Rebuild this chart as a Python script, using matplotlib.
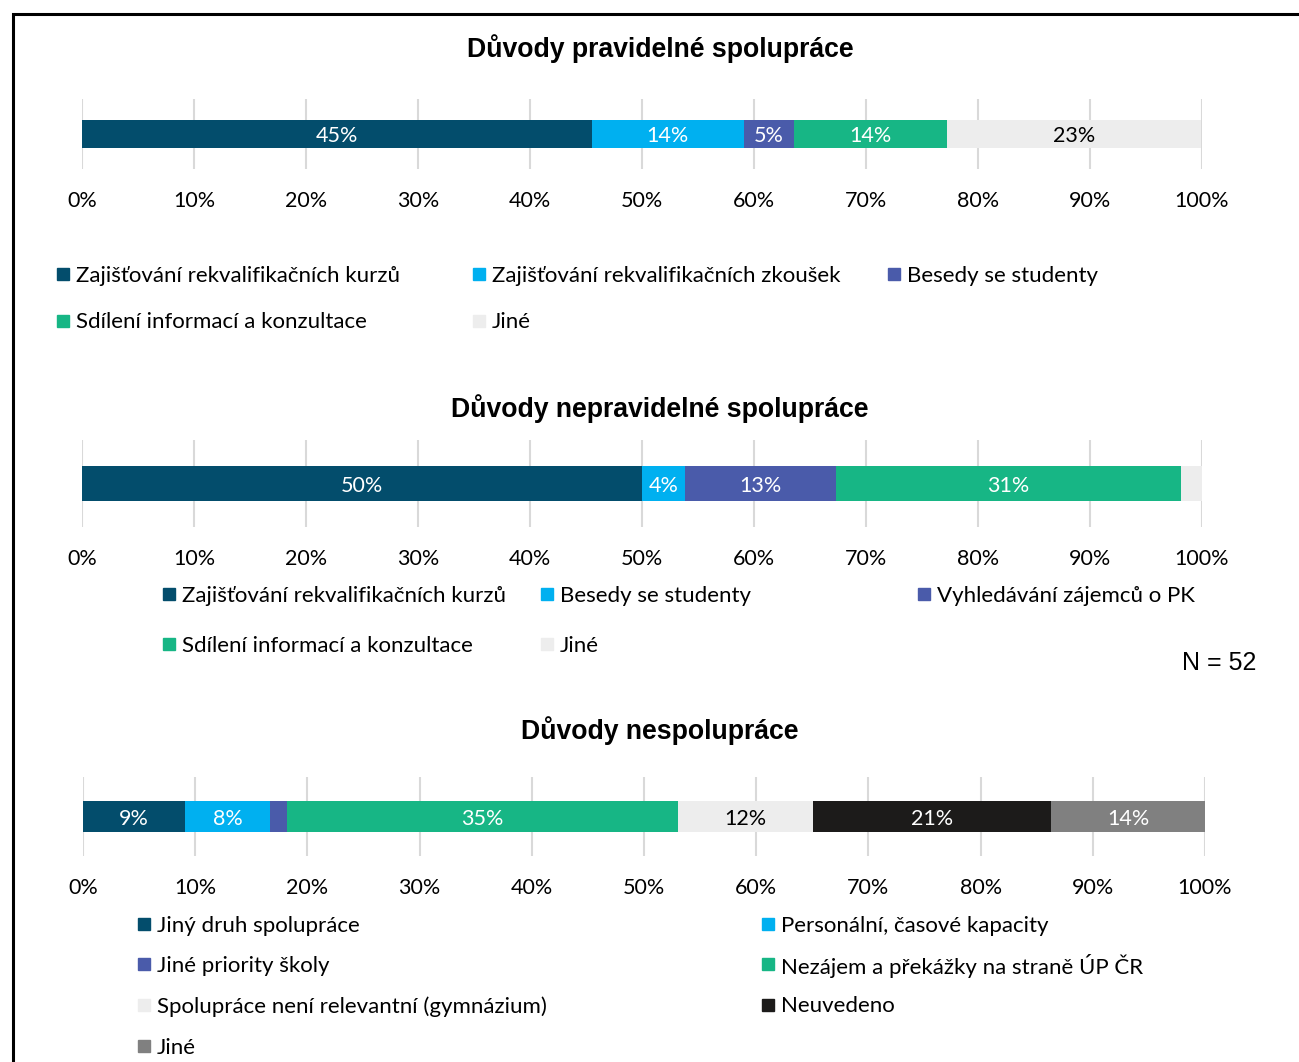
import matplotlib
matplotlib.use("Agg")
import matplotlib.pyplot as plt
from matplotlib.patches import Rectangle

W, H = 1299, 1062
body_font = "Lato"
title_font = "Liberation Sans"

# ---------------- data ----------------
c_teal = "#034D6C"
c_cyan = "#00B0F0"
c_blue = "#4A5BAA"
c_green = "#17B685"
c_light = "#EDEDED"
c_black = "#1C1B1A"
c_grey = "#808080"

title1 = "Důvody pravidelné spolupráce"
names1 = ["Zajišťování rekvalifikačních kurzů", "Zajišťování rekvalifikačních zkoušek",
          "Besedy se studenty", "Sdílení informací a konzultace", "Jiné"]
values1 = [45.5, 13.6, 4.5, 13.6, 22.7]
labels1 = ["45%", "14%", "5%", "14%", "23%"]
colors1 = [c_teal, c_cyan, c_blue, c_green, c_light]

title2 = "Důvody nepravidelné spolupráce"
names2 = ["Zajišťování rekvalifikačních kurzů", "Besedy se studenty",
          "Vyhledávání zájemců o PK", "Sdílení informací a konzultace", "Jiné"]
values2 = [50.0, 3.8, 13.5, 30.8, 1.9]
labels2 = ["50%", "4%", "13%", "31%", ""]
colors2 = [c_teal, c_cyan, c_blue, c_green, c_light]

title3 = "Důvody nespolupráce"
names3 = ["Jiný druh spolupráce", "Personální, časové kapacity", "Jiné priority školy",
          "Nezájem a překážky na straně ÚP ČR", "Spolupráce není relevantní (gymnázium)",
          "Neuvedeno", "Jiné"]
values3 = [9.1, 7.6, 1.5, 34.8, 12.1, 21.2, 13.7]
labels3 = ["9%", "8%", "", "35%", "12%", "21%", "14%"]
colors3 = [c_teal, c_cyan, c_blue, c_green, c_light, c_black, c_grey]

xticks = list(range(0, 101, 10))
xticklabels = [f"{t}%" for t in xticks]
n_text = "N = 52"

fig = plt.figure(figsize=(W / 100, H / 100), dpi=100)


def px_axes(x0, x1, y0, y1):
    return fig.add_axes([x0 / W, 1 - y1 / H, (x1 - x0) / W, (y1 - y0) / H])


def bar_chart(ax, values, labels, colors):
    left = 0
    for v, lab, col in zip(values, labels, colors):
        ax.barh(0, v, left=left, height=0.4, color=col, zorder=3)
        if lab:
            tc = "black" if col == c_light else "white"
            ax.annotate(lab, (left + v / 2, 0), xytext=(0, -1.5), textcoords="offset points",
                        ha="center", va="center", color=tc,
                        fontsize=15.5, family=body_font, zorder=4)
        left += v
    ax.set_xlim(0, 100)
    ax.set_ylim(-0.5, 0.5)
    ax.set_yticks([])
    ax.set_xticks(xticks)
    ax.set_xticklabels(xticklabels, family=body_font, fontsize=15.5)
    ax.tick_params(axis="x", length=0, pad=16)
    ax.grid(axis="x", color="#D9D9D9", linewidth=1.5, zorder=0)
    for s in ax.spines.values():
        s.set_visible(False)


def legend(names, colors, cols_x, rows_y, ncol):
    for i, (nm, col) in enumerate(zip(names, colors)):
        x = cols_x[i % ncol]
        y = rows_y[i // ncol]
        fig.add_artist(Rectangle((x / W, 1 - (y + 6) / H), 12 / W, 12 / H,
                                 transform=fig.transFigure, color=col))
        fig.text((x + 19) / W, 1 - (y + 1.5) / H, nm, ha="left", va="center",
                 family=body_font, fontsize=16)


# frame
fig.add_artist(Rectangle((13 / W, -0.05), 1.1, 1 - 14 / H + 0.05, transform=fig.transFigure,
                         fill=False, edgecolor="black", linewidth=2.2))

# chart 1
fig.text(660 / W, 1 - 49 / H, title1, ha="center", va="center", family=title_font,
         fontsize=19.2, fontweight="bold")
ax1 = px_axes(82, 1202, 99, 169)
bar_chart(ax1, values1, labels1, colors1)
legend(names1, colors1, [57, 473, 888], [274, 321], 3)

# chart 2
fig.text(660 / W, 1 - 409 / H, title2, ha="center", va="center", family=title_font,
         fontsize=19.2, fontweight="bold")
ax2 = px_axes(82, 1202, 440, 527)
bar_chart(ax2, values2, labels2, colors2)
legend(names2, colors2, [163, 541, 918], [594, 644], 3)

fig.text(1182 / W, 1 - 663 / H, n_text, ha="left", va="center", family=title_font, fontsize=18)

# chart 3
fig.text(660 / W, 1 - 731 / H, title3, ha="center", va="center", family=title_font,
         fontsize=19.2, fontweight="bold")
ax3 = px_axes(83, 1205, 777, 856)
bar_chart(ax3, values3, labels3, colors3)
legend(names3, colors3, [138, 762], [924, 964, 1005, 1046], 2)

fig.savefig("out.png", dpi=100)
